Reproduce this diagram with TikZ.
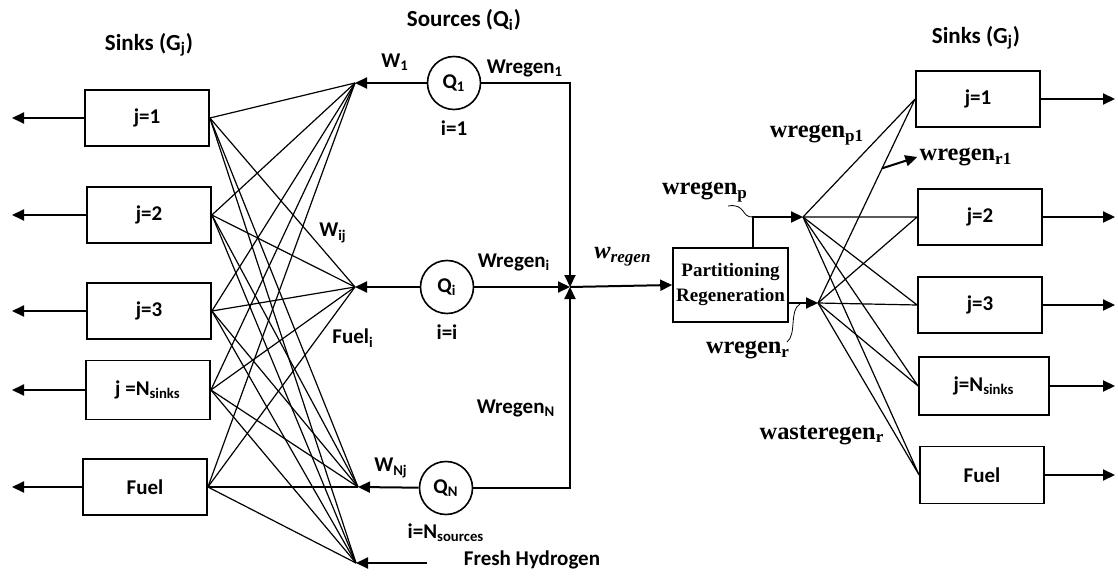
\documentclass[tikz,border=0pt]{standalone}
\usepackage{fontspec}
\setmainfont{Carlito}
\newfontfamily\serifbf{Liberation Serif}
\usetikzlibrary{arrows.meta, positioning, calc}

\begin{document}
\begin{tikzpicture}[
  x=0.5pt, y=-0.5pt,
  font=\fontsize{10.5}{12.5}\selectfont\bfseries,
  >={Triangle[length=6pt,width=5.5pt]},
  sink/.style={draw, line width=0.9pt, minimum width=62pt, minimum height=28pt,
               inner sep=2pt},
  src/.style={circle, draw, line width=0.8pt, minimum size=26.5pt, inner sep=0pt},
  part/.style={draw, line width=0.8pt, minimum width=57.5pt, minimum height=37pt,
               align=center, inner sep=1pt,
               font=\fontsize{9.5}{12.5}\selectfont\serifbf\bfseries},
  head/.style={font=\fontsize{11.5}{13.5}\selectfont\bfseries},
  lab/.style={inner sep=1pt},
  slab/.style={font=\fontsize{12.2}{14}\selectfont\serifbf\bfseries, inner sep=1pt},
  flow/.style={->, line width=1pt},
  net/.style={line width=0.6pt},
  tilde/.style={line width=0.4pt}
]
\useasboundingbox (0,0) rectangle (1118,577);

% sinks on the left
\node[head] (hl) at (149,45) {Sinks (G\textsubscript{j})};
\node[sink] (g1) at (147,118) {j=1};
\node[sink] (g2) at (149,215) {j=2};
\node[sink] (g3) at (149,311) {j=3};
\node[sink, minimum height=29.5pt] (g4) at (148,390) {j =N\textsubscript{sinks}};
\node[sink] (g5) at (145,487) {Fuel};

% mixing points
\coordinate (m1) at (355,83);
\coordinate (m2) at (355,287);
\coordinate (m3) at (358,487);
\coordinate (m4) at (356,563);
\coordinate (fh) at (427,563);
\coordinate (lo) at (12,0);
\coordinate (ro) at (1115,0);

% sources
\node[head] (hs) at (464,20) {Sources (Q\textsubscript{i})};
\node[src] (q1) at (454,83) {Q\textsubscript{1}};
\node[src] (qi) at (447,287) {Q\textsubscript{i}};
\node[src] (qn) at (446,488) {Q\textsubscript{N}};
\node[lab, below=4pt of q1] (i1) {i=1};
\node[lab, below=4pt of qi] (ii) {i=i};
\node[lab, below=3pt of qn] (in) {i=N\textsubscript{sources}};

\node[lab] (w1) at (395,62) {W\textsubscript{1}};
\node[lab] (wg1) at (525,68) {Wregen\textsubscript{1}};
\node[lab] (wij) at (333,233) {W\textsubscript{ij}};
\node[lab] (wgi) at (514,262) {Wregen\textsubscript{i}};
\node[lab] (fi) at (353,338) {Fuel\textsubscript{i}};
\node[lab] (wgn) at (516,408) {Wregen\textsubscript{N}};
\node[lab] (wnj) at (391,468) {W\textsubscript{Nj}};
\node[lab] (fhl) at (532,560) {Fresh Hydrogen};

% regeneration
\coordinate (jn) at (570,287);
\node[slab] (wr) at (623,257) {\itshape w\textsubscript{regen}};
\node[part] (pr) at (730.5,285) {Partitioning\\Regeneration};
\coordinate (pt) at (753,217);
\coordinate (sp) at (803,217);
\coordinate (sr) at (818,303);

% sinks on the right
\node[head] (hr) at (976,38) {Sinks (G\textsubscript{j})};
\node[sink] (r1) at (978,99) {j=1};
\node[sink] (r2) at (980,217) {j=2};
\node[sink] (r3) at (980,305) {j=3};
\node[sink, minimum height=29pt, minimum width=65pt] (r4) at (984,386) {j=N\textsubscript{sinks}};
\node[sink, minimum height=28.5pt] (r5) at (982,475) {Fuel};

\node[slab] (wp1) at (817,135) {wregen\textsubscript{p1}};
\node[slab] (wr1) at (966,157) {wregen\textsubscript{r1}};
\node[slab] (wp) at (705,192) {wregen\textsubscript{p}};
\node[slab] (wrr) at (748,350) {wregen\textsubscript{r}};
\node[slab] (wst) at (822,435) {wasteregen\textsubscript{r}};

% connections
\foreach \g in {g1,g2,g3,g4,g5}
  \foreach \m in {m1,m2,m3,m4}
    \draw[net] (\g.east) -- (\m);
\foreach \r in {r1,r2,r3,r4,r5}
  \draw[net] (sp) -- (\r.west) (sr) -- (\r.west);

\foreach \g in {g1,g2,g3,g4,g5}
  \draw[flow] (\g.west) -- (\g.west -| lo);
\foreach \r in {r1,r2,r3,r4,r5}
  \draw[flow] (\r.east) -- (\r.east -| ro);

\draw[flow] (q1) -- (m1);
\draw[flow] (qi) -- (m2);
\draw[flow] (qn) -- (m3);
\draw[flow] (fh) -- (m4);
\draw[flow] (q1.east) -| (jn);
\draw[flow] (qi) -- (jn);
\draw[flow] (qn.east) -| (jn);
\draw[flow] (jn) -- (pr.west);

\draw[flow] (pr.north -| pt) -- (pt) -- (sp);
\draw[flow] (pr.east |- sr) -- (sr);
\draw[flow] ($(sr)!0.66!(r1.west)$) -- (wr1.west);

\draw[tilde] (728,206) .. controls (746,203) and (741,218) .. (pt);
\draw[tilde] (787,342) .. controls (797,334) and (789,310) .. (800,304);
\end{tikzpicture}
\end{document}
